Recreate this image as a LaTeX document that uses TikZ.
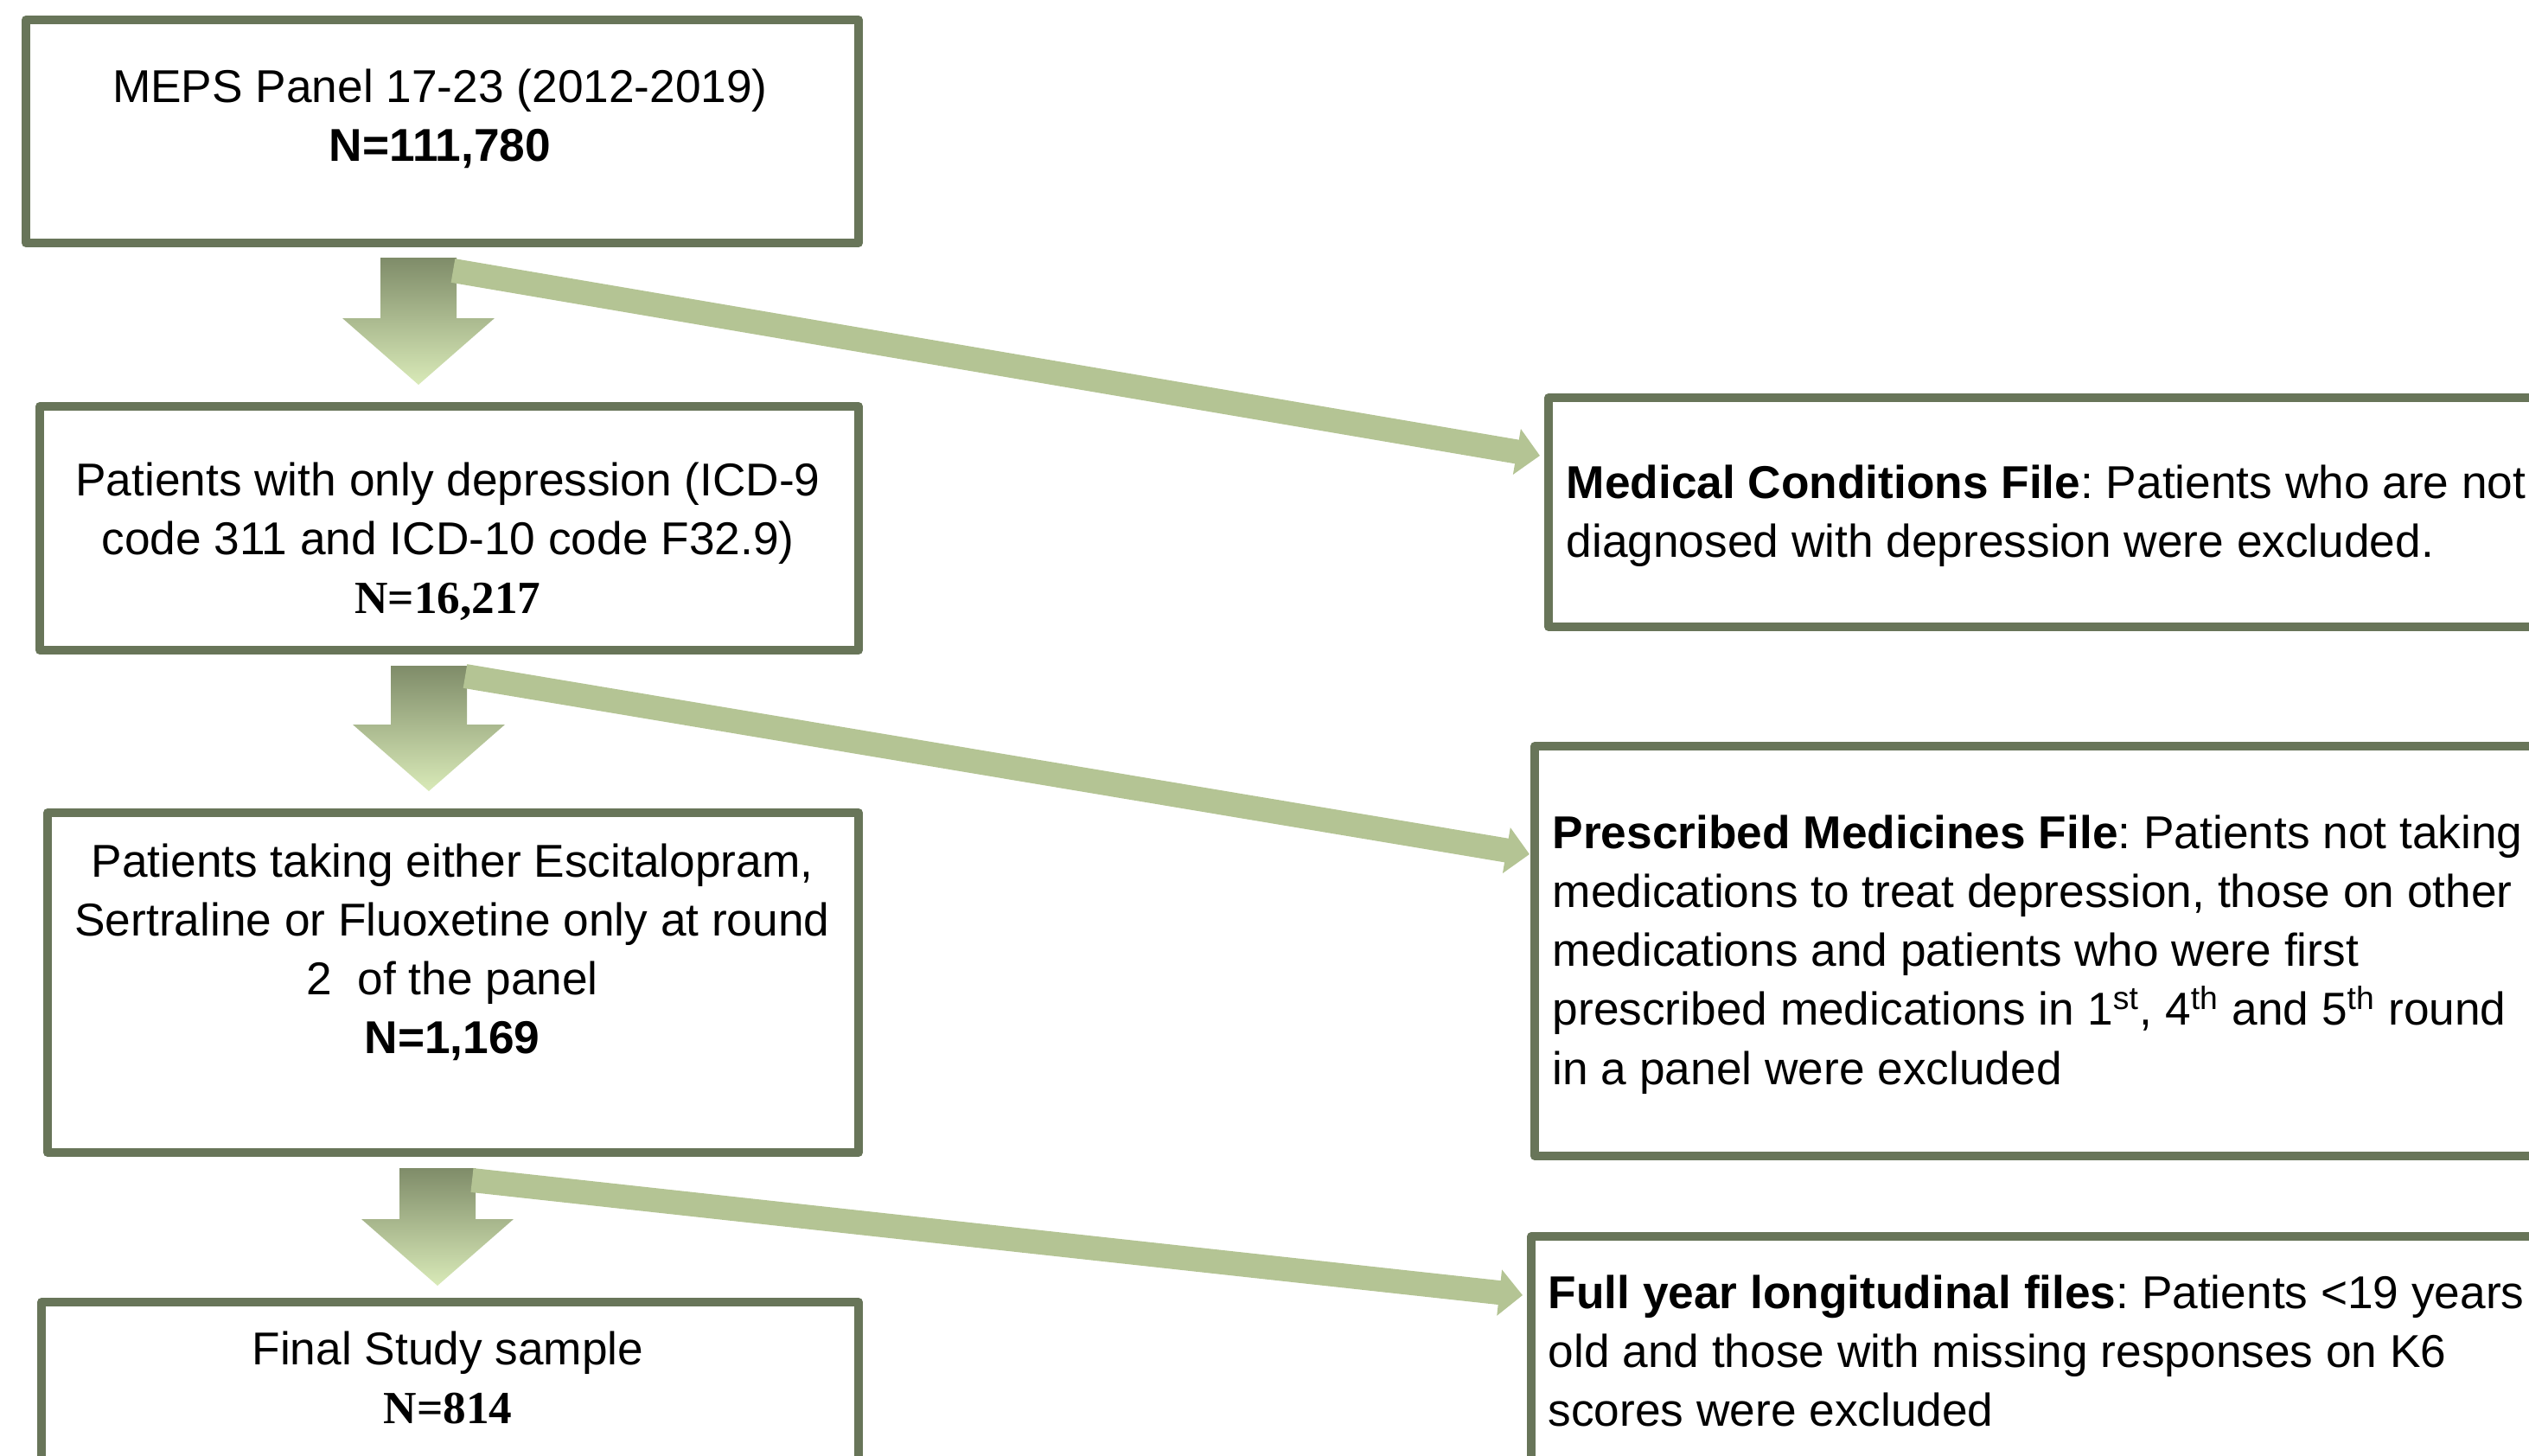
\documentclass[tikz,border=0pt]{standalone}
\usepackage{fontspec}
\setmainfont{Liberation Sans}
\newfontfamily\timesbold{Liberation Serif}[BoldFont={Liberation Serif Bold}]
\usepackage{xcolor}
\usetikzlibrary{arrows.meta, positioning, calc}
\frenchspacing

\definecolor{boxline}{RGB}{104,117,89}
\definecolor{arrowtop}{RGB}{127,140,105}
\definecolor{arrowbot}{RGB}{217,234,184}
\definecolor{feedline}{RGB}{180,196,148}

\newcommand{\flowdown}[2]{%
    \shade[top color=arrowtop, bottom color=arrowbot]
        let \p1 = (#1), \p2 = (#2) in
        (\x1-0.44cm,\y1) -- (\x1+0.44cm,\y1) -- (\x1+0.44cm,\y2+0.77cm)
        -- (\x1+0.88cm,\y2+0.77cm) -- (\x1,\y2) -- (\x1-0.88cm,\y2+0.77cm)
        -- (\x1-0.44cm,\y2+0.77cm) -- cycle;}

\begin{document}
\begin{tikzpicture}[
    box/.style={draw=boxline, line width=1mm, line join=round, inner sep=0pt},
    txt/.style={inner sep=0pt, font=\fontsize{15.15}{19.4}\selectfont},
    feed/.style={draw=feedline, line width=2.8mm, -{Triangle[width=5.2mm, length=2.7mm]}}]
    \useasboundingbox (0,0) rectangle (29.25,-16.83);

    \node[box, minimum width=9.63cm, minimum height=2.58cm] (b1) at (5.115,-1.52) {};
    \node[box, minimum width=9.47cm, minimum height=2.82cm] (b2) at (5.195,-6.11) {};
    \node[box, minimum width=9.38cm, minimum height=3.93cm] (b3) at (5.24,-11.365) {};
    \node[box, minimum width=9.45cm, minimum height=2.04cm] (b4) at (5.205,-16.08) {};
    \node[box, minimum width=11.69cm, minimum height=2.65cm] (r1) at (23.755,-5.925) {};
    \node[box, minimum width=11.85cm, minimum height=4.74cm] (r2) at (23.675,-11.0) {};
    \node[box, minimum width=11.89cm, minimum height=2.90cm] (r3) at (23.655,-15.75) {};

    \node[txt, anchor=north, align=center] (t1) at (5.09,-0.70)
        {\strut MEPS Panel 17-23 (2012-2019)\\ \textbf{N=111,780}};
    \node[txt, anchor=north, align=center] (t2) at (5.18,-5.25)
        {\strut Patients with only depression (ICD-9\\ code 311 and ICD-10 code F32.9)\\ {\timesbold\bfseries N=16,217}};
    \node[txt, anchor=north, align=center] (t3) at (5.23,-9.66)
        {\strut Patients taking either Escitalopram,\\ Sertraline or Fluoxetine only at round\\ 2~ of the panel\\ \textbf{N=1,169}};
    \node[txt, anchor=north, align=center] (t4) at (5.18,-15.30)
        {\strut Final Study sample\\ {\timesbold\bfseries N=814}};

    \node[txt, anchor=north west, align=left] (s1) at (18.11,-5.28)
        {\strut\textbf{Medical Conditions File}: Patients who are not\\ diagnosed with depression were excluded.};
    \node[txt, anchor=north west, align=left] (s2) at (17.95,-9.33)
        {\strut\textbf{Prescribed Medicines File}: Patients not taking\\ medications to treat depression, those on other\\ medications and patients who were first\\ prescribed medications in 1\textsuperscript{st}, 4\textsuperscript{th} and 5\textsuperscript{th} round\\ in a panel were excluded};
    \node[txt, anchor=north west, align=left] (s3) at (17.90,-14.65)
        {\strut\textbf{Full year longitudinal files}: Patients <19 years\\ old and those with missing responses on K6\\ scores were excluded};

    \coordinate (a1) at ($(b1.south)+(-0.275,-0.12)$);
    \coordinate (a2) at ($(b2.south)+(-0.235,-0.13)$);
    \coordinate (a3) at ($(b3.south)+(-0.18,-0.13)$);
    \flowdown{a1}{$(b2.north)+(0,0.20)$}
    \flowdown{a2}{$(b3.north)+(0,0.20)$}
    \flowdown{a3}{$(b4.north)+(0,0.14)$}

    \coordinate (e1) at ($(r1.north west)+(-0.05,-0.72)$);
    \coordinate (e2) at ($(r2.north west)+(-0.01,-1.30)$);
    \coordinate (e3) at ($(r3.north west)+(-0.05,-0.73)$);
    \draw[feed] ($(a1)+(0.40,-0.15)$) -- (e1);
    \draw[feed] ($(a2)+(0.42,-0.12)$) -- (e2);
    \draw[feed] ($(a3)+(0.40,-0.14)$) -- (e3);
\end{tikzpicture}
\end{document}
